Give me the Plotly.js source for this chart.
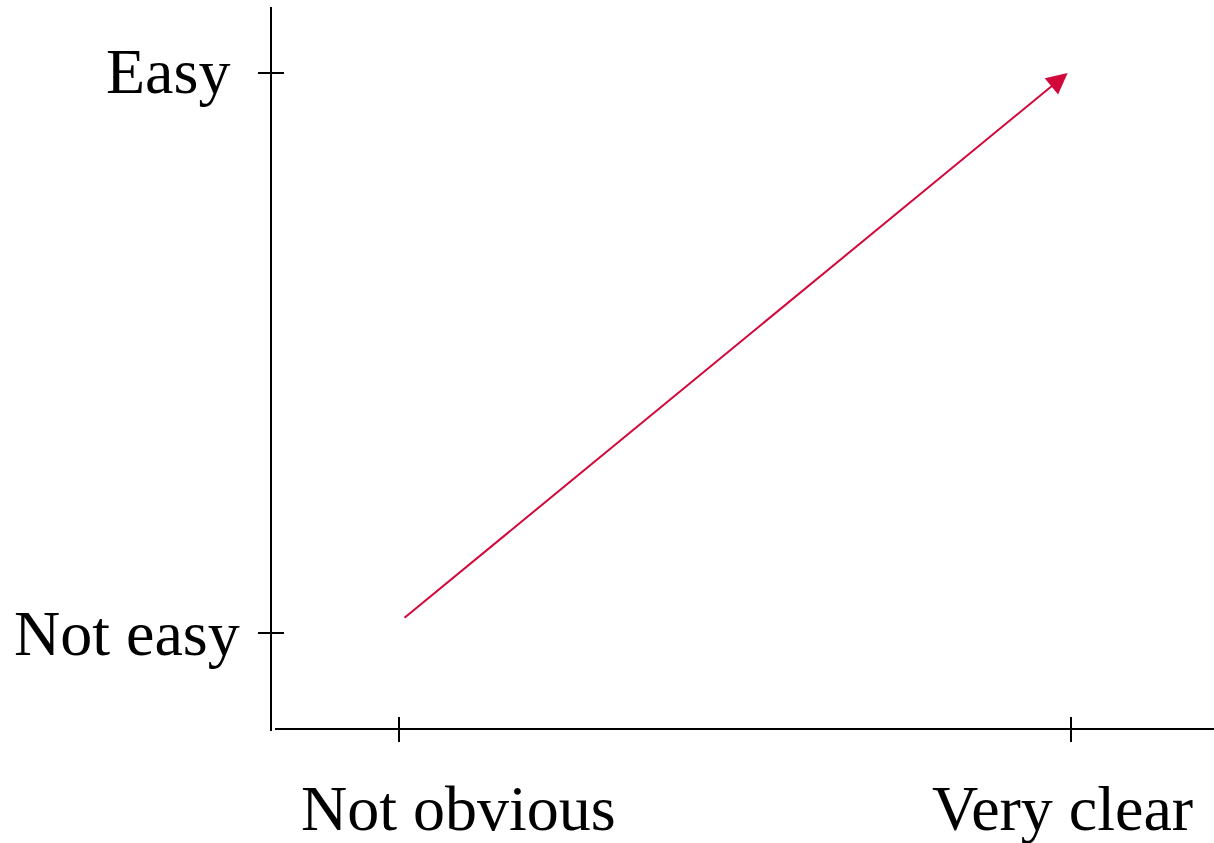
<!DOCTYPE html>
<html>
<head>
<meta charset="utf-8">
<script src="https://cdn.plot.ly/plotly-3.0.1.min.js"></script>
<style>html,body{margin:0;padding:0;background:#fff;}#chart{width:1214px;height:843px;}</style>
</head>
<body>
<div id="chart"></div>
<script>
// Data
const xCategories = ["Not obvious", "Very clear"];
const xTickValues = [0, 1];
const yCategories = ["Not easy", "Easy"];
const yTickValues = [0, 1];
const arrowFrom = [0.006, 0.025];   // (clarity, ease)
const arrowTo = [0.995, 1.0];

const FONT = "Liberation Serif, Times New Roman, serif";
const RED = "#d3083a";
const xRange = [-0.1845, 1.2128];
const yRange = [-0.175, 1.1179];

const traces = [
  { x: [arrowFrom[0], arrowTo[0]], y: [arrowFrom[1], arrowTo[1]], type: "scatter", mode: "lines",
    line: { color: RED, width: 2 }, hoverinfo: "skip", showlegend: false, xaxis: "x", yaxis: "y",
    opacity: 0 },
  { x: [xTickValues[0]], y: [yTickValues[0]], type: "scatter", mode: "markers",
    marker: { opacity: 0 }, hoverinfo: "skip", showlegend: false, xaxis: "x2", yaxis: "y2" }
];

const axisCommon = { showgrid: false, zeroline: false, showticklabels: false, tickwidth: 2, ticklen: 12, tickcolor: "#000", fixedrange: true };

const annotations = [
  { xref: "x", yref: "y", axref: "x", ayref: "y", x: arrowTo[0], y: arrowTo[1], ax: arrowFrom[0], ay: arrowFrom[1],
    text: "", showarrow: true, arrowhead: 2, arrowsize: 2.1, arrowwidth: 2, arrowcolor: RED, standoff: 0, startstandoff: 0 },
  { xref: "paper", yref: "y", x: 0, y: yTickValues[1], xanchor: "right", yanchor: "middle", xshift: -39, yshift: 2,
    text: yCategories[1], showarrow: false, font: { family: FONT, size: 64, color: "#000" } },
  { xref: "paper", yref: "y", x: 0, y: yTickValues[0], xanchor: "right", yanchor: "middle", xshift: -29, yshift: 0,
    text: yCategories[0], showarrow: false, font: { family: FONT, size: 64, color: "#000" } },
  { xref: "x", yref: "paper", x: xTickValues[0] + 0.089, y: 0, xanchor: "center", yanchor: "top", yshift: -40,
    text: xCategories[0], showarrow: false, font: { family: FONT, size: 64, color: "#000" } },
  { xref: "x", yref: "paper", x: xTickValues[1] - 0.013, y: 0, xanchor: "center", yanchor: "top", yshift: -40,
    text: xCategories[1], showarrow: false, font: { family: FONT, size: 64, color: "#000" } }
];

const layout = {
  width: 1214, height: 843,
  margin: { l: 271, r: 0, t: 7, b: 112, pad: 0 },
  paper_bgcolor: "#fff", plot_bgcolor: "#fff",
  showlegend: false,
  font: { family: FONT, color: "#000" },
  xaxis: Object.assign({}, axisCommon, { domain: [4/943, 1], range: xRange, anchor: "free", position: 2/724,
    showline: true, linecolor: "#000", linewidth: 2, ticks: "outside", tickvals: xTickValues }),
  xaxis2: Object.assign({}, axisCommon, { domain: [4/943, 1], range: xRange, anchor: "free", position: 2/724,
    overlaying: "x", showline: false, ticks: "inside", tickvals: xTickValues }),
  yaxis: Object.assign({}, axisCommon, { domain: [0, 1], range: yRange, anchor: "free", position: 0,
    showline: true, linecolor: "#000", linewidth: 2, ticks: "outside", tickvals: yTickValues }),
  yaxis2: Object.assign({}, axisCommon, { domain: [0, 1], range: yRange, anchor: "free", position: 0,
    overlaying: "y", showline: false, ticks: "inside", tickvals: yTickValues }),
  annotations: annotations
};

Plotly.newPlot("chart", traces, layout, { displayModeBar: false, staticPlot: true });
</script>
</body>
</html>
